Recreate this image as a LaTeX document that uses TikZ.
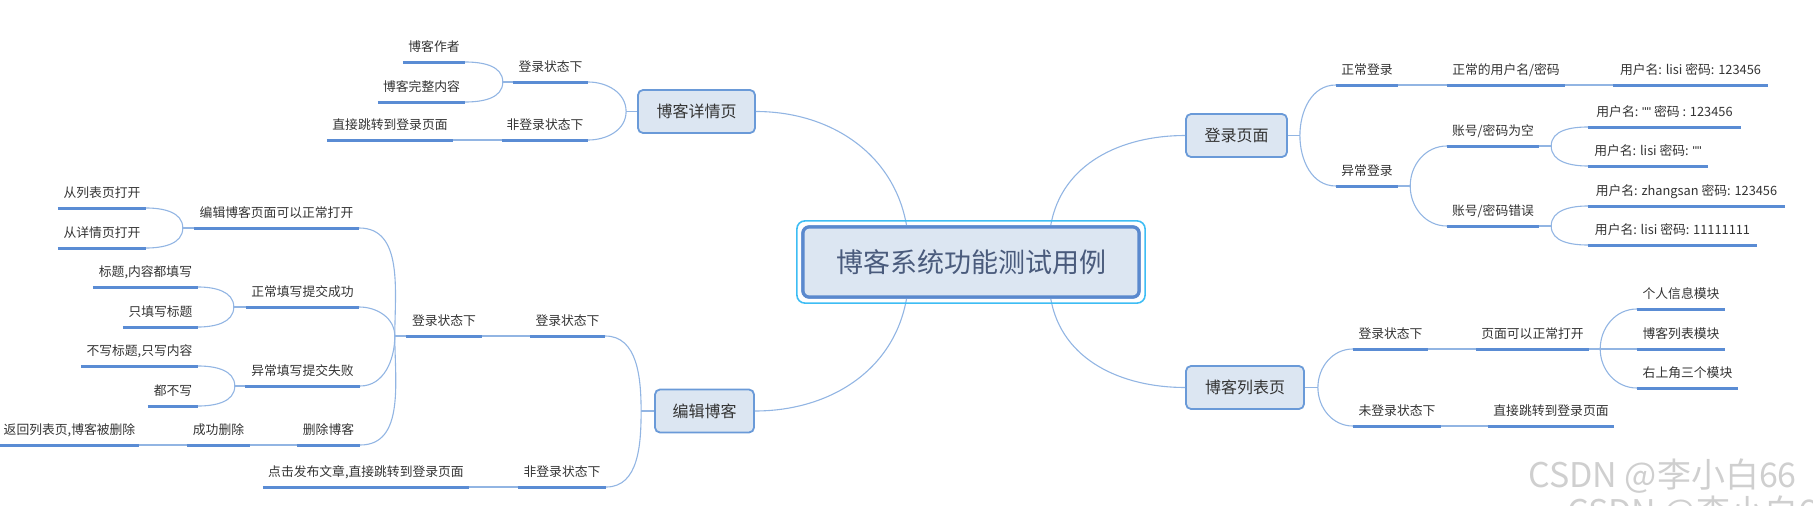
\documentclass[tikz,border=0pt]{standalone}
\usepackage{fontspec}
\setmainfont{Noto Sans CJK SC}
\newfontfamily\qfont{Liberation Sans}
\usetikzlibrary{calc}
\definecolor{boxfill}{HTML}{DCE6F2}
\definecolor{boxline}{HTML}{6A9AD8}
\definecolor{ulc}{HTML}{5A8CD4}
\definecolor{connc}{HTML}{92B5E3}
\definecolor{outerc}{HTML}{3EBDF4}
\definecolor{innerc}{HTML}{5A89CE}
\definecolor{txt}{HTML}{333333}
\definecolor{ctxt}{HTML}{4A5B7C}
\definecolor{wmc}{HTML}{CFCFCF}
\newcommand\lblfont{\fontsize{12.8}{15}\selectfont}
\newcommand\boxfont{\fontsize{16}{19}\selectfont}
\newcommand\cenfont{\fontsize{27}{31}\selectfont}
\newcommand\dq{{\qfont\char"22\char"22}}
\tikzset{
  lbl/.style={font=\lblfont, text=txt, inner sep=0pt, text height=10pt, text depth=10pt, minimum width=#1, anchor=south},
  uline/.style={draw=ulc, line width=3pt},
  conn/.style={draw=connc, line width=1.1pt},
  topicbox/.style={draw=boxline, fill=boxfill, line width=1.8pt, rounded corners=5pt, font=\boxfont, text=txt, inner sep=0pt, minimum height=43pt, minimum width=#1},
  centralbox/.style={draw=innerc, fill=boxfill, line width=3.2pt, rounded corners=6pt, font=\cenfont, text=ctxt, inner sep=0pt, minimum width=336pt, minimum height=70pt},
  wm/.style={font=\fontsize{34}{38}\selectfont, text=wmc, inner sep=0pt, anchor=base west}
}
\begin{document}
\begin{tikzpicture}[x=1pt,y=1pt]
\useasboundingbox (0,0) rectangle (1813,-506);
\clip (0,0) rectangle (1813,-506);

% ---------------- central topic
\node[centralbox] (c) at (971,-262) {博客系统功能测试用例};

% ---------------- main topics
\node[topicbox=117] (b1) at (696.5,-111.5) {博客详情页};
\node[topicbox=99]  (b2) at (704.5,-411) {编辑博客};
\node[topicbox=101] (b3) at (1236.5,-135.5) {登录页面};
\node[topicbox=118] (b4) at (1245,-387.5) {博客列表页};

% ---------------- 博客详情页 branch
\node[lbl=62]  (a1) at (434,-62) {博客作者};
\node[lbl=87]  (a2) at (421.5,-102) {博客完整内容};
\node[lbl=75]  (a3) at (550.5,-82) {登录状态下};
\node[lbl=86]  (a4) at (545,-140) {非登录状态下};
\node[lbl=126] (a5) at (390,-140) {直接跳转到登录页面};

% ---------------- 编辑博客 branch
\node[lbl=88]  (e1) at (102,-208) {从列表页打开};
\node[lbl=88]  (e2) at (102,-248) {从详情页打开};
\node[lbl=165] (e3) at (276.5,-228) {编辑博客页面可以正常打开};
\node[lbl=105] (e4) at (145.5,-287) {标题,内容都填写};
\node[lbl=75]  (e5) at (160.5,-327) {只填写标题};
\node[lbl=113] (e6) at (302.5,-307) {正常填写提交成功};
\node[lbl=117] (e7) at (139.5,-366) {不写标题,只写内容};
\node[lbl=50]  (e8) at (173,-406) {都不写};
\node[lbl=115] (e9) at (302.5,-386) {异常填写提交失败};
\node[lbl=63]  (e10) at (328.5,-445) {删除博客};
\node[lbl=63]  (e11) at (218.5,-445) {成功删除};
\node[lbl=139] (e12) at (69.5,-445) {返回列表页,博客被删除};
\node[lbl=76]  (e13) at (444,-336) {登录状态下};
\node[lbl=75]  (e14) at (567.5,-336) {登录状态下};
\node[lbl=88]  (e15) at (562,-487) {非登录状态下};
\node[lbl=206] (e16) at (366,-487) {点击发布文章,直接跳转到登录页面};

% ---------------- 登录页面 branch
\node[lbl=62]  (r1) at (1367,-85) {正常登录};
\node[lbl=62]  (r2) at (1367,-186) {异常登录};
\node[lbl=118] (r3) at (1506,-85) {正常的用户名/密码};
\node[lbl=155] (r4) at (1690.5,-85) {用户名: lisi 密码: 123456};
\node[lbl=92]  (r5) at (1493,-146) {账号/密码为空};
\node[lbl=92]  (r6) at (1493,-226) {账号/密码错误};
\node[lbl=153] (r7) at (1664.5,-127) {用户名: \dq{} 密码 : 123456};
\node[lbl=120] (r8) at (1648,-166) {用户名: lisi 密码: \dq};
\node[lbl=197] (r9) at (1686.5,-206) {用户名: zhangsan 密码: 123456};
\node[lbl=169] (r10) at (1672.5,-245) {用户名: lisi 密码: 11111111};

% ---------------- 博客列表页 branch
\node[lbl=75]  (l1) at (1390.5,-349) {登录状态下};
\node[lbl=88]  (l2) at (1397,-426) {未登录状态下};
\node[lbl=113] (l3) at (1532.5,-349) {页面可以正常打开};
\node[lbl=126] (l4) at (1551,-426) {直接跳转到登录页面};
\node[lbl=88]  (l5) at (1681,-309) {个人信息模块};
\node[lbl=88]  (l6) at (1681,-349) {博客列表模块};
\node[lbl=101] (l7) at (1687.5,-388) {右上角三个模块};

% ---------------- junction points
\coordinate (jb1) at ($(b1.west)+(-11,0)$);
\coordinate (ja3) at ($(a3.south west)+(-10,0)$);
\coordinate (jb2) at ($(b2.west)+(-13,0)$);
\coordinate (je13) at ($(e13.south west)+(-11,0)$);
\coordinate (je3) at ($(e3.south west)+(-11,0)$);
\coordinate (je6) at ($(e6.south west)+(-12,0)$);
\coordinate (je9) at ($(e9.south west)+(-10,0)$);
\coordinate (jb3) at ($(b3.east)+(12,0)$);
\coordinate (jr2) at ($(r2.south east)+(12,0)$);
\coordinate (jr5) at ($(r5.south east)+(12,0)$);
\coordinate (jr6) at ($(r6.south east)+(12,0)$);
\coordinate (jb4) at ($(b4.east)+(13,0)$);
\coordinate (jl3) at ($(l3.south east)+(11,0)$);

% ---------------- connectors: central to main topics
\draw[conn] ($(c.north west)!0.31!(c.north east)$) to[out=100,in=0] (b1.east);
\draw[conn] ($(c.south west)!0.31!(c.south east)$) to[out=-100,in=0] (b2.east);
\draw[conn] ($(c.north west)!0.735!(c.north east)$) to[out=80,in=180] (b3.west);
\draw[conn] ($(c.south west)!0.735!(c.south east)$) to[out=-80,in=180] (b4.west);

% 博客详情页
\draw[conn] (b1.west) -- (jb1);
\draw[conn] (jb1) to[out=90,in=0] (a3.south east);
\draw[conn] (jb1) to[out=-90,in=0] (a4.south east);
\draw[conn] (a3.south west) -- (ja3);
\draw[conn] (ja3) to[out=90,in=0] (a1.south east);
\draw[conn] (ja3) to[out=-90,in=0] (a2.south east);
\draw[conn] (a4.south west) -- (a5.south east);

% 编辑博客
\draw[conn] (b2.west) -- (jb2);
\draw[conn] (jb2) to[out=90,in=0] (e14.south east);
\draw[conn] (jb2) to[out=-90,in=0] (e15.south east);
\draw[conn] (e14.south west) -- (e13.south east);
\draw[conn] (e13.south west) -- (je13);
\draw[conn] (je13) to[out=90,in=0] (e3.south east);
\draw[conn] (je13) to[out=90,in=0] (e6.south east);
\draw[conn] (je13) to[out=-90,in=0] (e9.south east);
\draw[conn] (je13) to[out=-90,in=0] (e10.south east);
\draw[conn] (e3.south west) -- (je3);
\draw[conn] (je3) to[out=90,in=0] (e1.south east);
\draw[conn] (je3) to[out=-90,in=0] (e2.south east);
\draw[conn] (e6.south west) -- (je6);
\draw[conn] (je6) to[out=90,in=0] (e4.south east);
\draw[conn] (je6) to[out=-90,in=0] (e5.south east);
\draw[conn] (e9.south west) -- (je9);
\draw[conn] (je9) to[out=90,in=0] (e7.south east);
\draw[conn] (je9) to[out=-90,in=0] (e8.south east);
\draw[conn] (e10.south west) -- (e11.south east);
\draw[conn] (e11.south west) -- (e12.south east);
\draw[conn] (e15.south west) -- (e16.south east);

% 登录页面
\draw[conn] (b3.east) -- (jb3);
\draw[conn] (jb3) to[out=90,in=180] (r1.south west);
\draw[conn] (jb3) to[out=-90,in=180] (r2.south west);
\draw[conn] (r1.south east) -- (r3.south west);
\draw[conn] (r3.south east) -- (r4.south west);
\draw[conn] (r2.south east) -- (jr2);
\draw[conn] (jr2) to[out=90,in=180] (r5.south west);
\draw[conn] (jr2) to[out=-90,in=180] (r6.south west);
\draw[conn] (r5.south east) -- (jr5);
\draw[conn] (jr5) to[out=90,in=180] (r7.south west);
\draw[conn] (jr5) to[out=-90,in=180] (r8.south west);
\draw[conn] (r6.south east) -- (jr6);
\draw[conn] (jr6) to[out=90,in=180] (r9.south west);
\draw[conn] (jr6) to[out=-90,in=180] (r10.south west);

% 博客列表页
\draw[conn] (b4.east) -- (jb4);
\draw[conn] (jb4) to[out=90,in=180] (l1.south west);
\draw[conn] (jb4) to[out=-90,in=180] (l2.south west);
\draw[conn] (l1.south east) -- (l3.south west);
\draw[conn] (l2.south east) -- (l4.south west);
\draw[conn] (l3.south east) -- (jl3);
\draw[conn] (jl3) to[out=90,in=180] (l5.south west);
\draw[conn] (jl3) -- (l6.south west);
\draw[conn] (jl3) to[out=-90,in=180] (l7.south west);

% ---------------- underlines
\foreach \n in {a1,a2,a3,a4,a5,e1,e2,e3,e4,e5,e6,e7,e8,e9,e10,e11,e12,e13,e14,e15,e16,r1,r2,r3,r4,r5,r6,r7,r8,r9,r10,l1,l2,l3,l4,l5,l6,l7}
  \draw[uline] (\n.south west) -- (\n.south east);

% ---------------- central topic redrawn on top, with outer frame
\node[centralbox] at (c) {博客系统功能测试用例};
\draw[draw=outerc, line width=1.6pt, rounded corners=8pt]
  ($(c.south west)+(-4.5,-4.5)$) rectangle ($(c.north east)+(4.5,4.5)$);

% ---------------- watermark
\node[wm] (w1) at (1528,-487) {CSDN @李小白66};
\node[wm] (w2) at (1567,-524) {CSDN @李小白66};
\end{tikzpicture}
\end{document}
